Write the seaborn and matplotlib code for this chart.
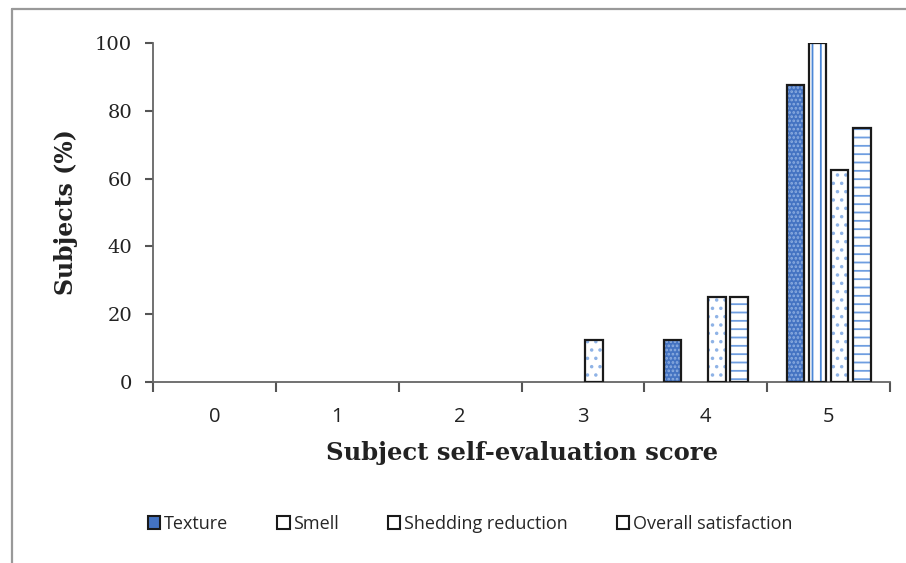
import numpy as np
import pandas as pd
import matplotlib
matplotlib.use("Agg")
import matplotlib.pyplot as plt
from matplotlib.patches import Rectangle
from matplotlib.lines import Line2D
from matplotlib.ticker import FixedLocator
import seaborn as sns

# DATA
scores = ["0", "1", "2", "3", "4", "5"]
texture = [0, 0, 0, 0, 12.5, 87.5]
smell = [0, 0, 0, 0, 0, 100]
shedding = [0, 0, 0, 12.5, 25, 62.5]
overall = [0, 0, 0, 0, 25, 75]
series = ["Texture", "Smell", "Shedding reduction", "Overall satisfaction"]
yticks = [0, 20, 40, 60, 80, 100]

df = pd.DataFrame({
    "score": scores * 4,
    "value": texture + smell + shedding + overall,
    "series": np.repeat(series, len(scores)),
})

sns.set_theme(style="white")
plt.rcParams["hatch.linewidth"] = 1.3

# fill, hatch, hatch colour per series
styles = {
    "Texture": ("#4473c2", "....", "#8eaee0"),
    "Smell": ("white", "||", "#4a86d6"),
    "Shedding reduction": ("white", "..", "#8fb3e6"),
    "Overall satisfaction": ("white", "--", "#6f9ee0"),
}

fig = plt.figure(figsize=(9.06, 5.63), dpi=100)
ax = fig.add_axes([153 / 906, 1 - 382 / 563, (890 - 153) / 906, (382 - 43) / 563])

sns.barplot(data=df, x="score", y="value", hue="series", hue_order=series,
            order=scores, width=0.72, gap=0.2, ax=ax, legend=False,
            palette=[styles[s][0] for s in series])

# hatch in blue, black outline drawn on top
for container, name in zip(ax.containers, series):
    face, hatch, hcol = styles[name]
    for p in container:
        p.set_facecolor(face)
        p.set_hatch(hatch)
        p.set_edgecolor(hcol)
        p.set_linewidth(0)
        if p.get_height() > 0:
            ax.add_patch(Rectangle(p.get_xy(), p.get_width(), p.get_height(),
                                   fill=False, ec="#1a1a1a", lw=1.6, zorder=3))

ax.set_xlim(-0.5, 5.5)
ax.set_ylim(0, 100)
ax.set_yticks(yticks)
ax.set_yticklabels([str(t) for t in yticks], family="DejaVu Serif", fontsize=14, color="#222222")
ax.set_xticklabels(scores, family="Open Sans", fontsize=14.5, color="#222222")
ax.xaxis.set_minor_locator(FixedLocator(np.arange(-0.5, 6, 1)))
ax.tick_params(axis="x", which="major", length=0, pad=18)
ax.tick_params(axis="x", which="minor", direction="out", length=7, width=1.5, color="#555555", bottom=True)
ax.tick_params(axis="y", direction="out", length=6, width=1.5, color="#555555", left=True, pad=9)

for side in ["top", "right"]:
    ax.spines[side].set_visible(False)
for side in ["left", "bottom"]:
    ax.spines[side].set_color("#666666")
    ax.spines[side].set_linewidth(1.3)

ax.set_xlabel("Subject self-evaluation score", family="DejaVu Serif",
              fontweight="bold", fontsize=17.5, color="#222222", labelpad=10)
ax.set_ylabel("Subjects (%)", family="DejaVu Serif", fontweight="bold",
              fontsize=17, color="#222222", labelpad=12)

handles = []
for name in series:
    face, hatch, hcol = styles[name]
    handles.append(Rectangle((0, 0), 1, 1, facecolor=face,
                             edgecolor="#1a1a1a", lw=1.5))
fig.legend(handles, series, loc="center", bbox_to_anchor=(470 / 906, 1 - 524 / 563),
           ncol=4, frameon=False, prop={"family": "Open Sans", "size": 13},
           handlelength=0.7, handleheight=0.7, handletextpad=0.2, columnspacing=2.7)

# outer frame (cropped)
fig.add_artist(Line2D([12 / 906, 12 / 906], [0, 1 - 9 / 563], color="#999999", lw=1.6))
fig.add_artist(Line2D([12 / 906, 1], [1 - 9 / 563, 1 - 9 / 563], color="#999999", lw=1.6))

fig.savefig("out.png", dpi=100)
